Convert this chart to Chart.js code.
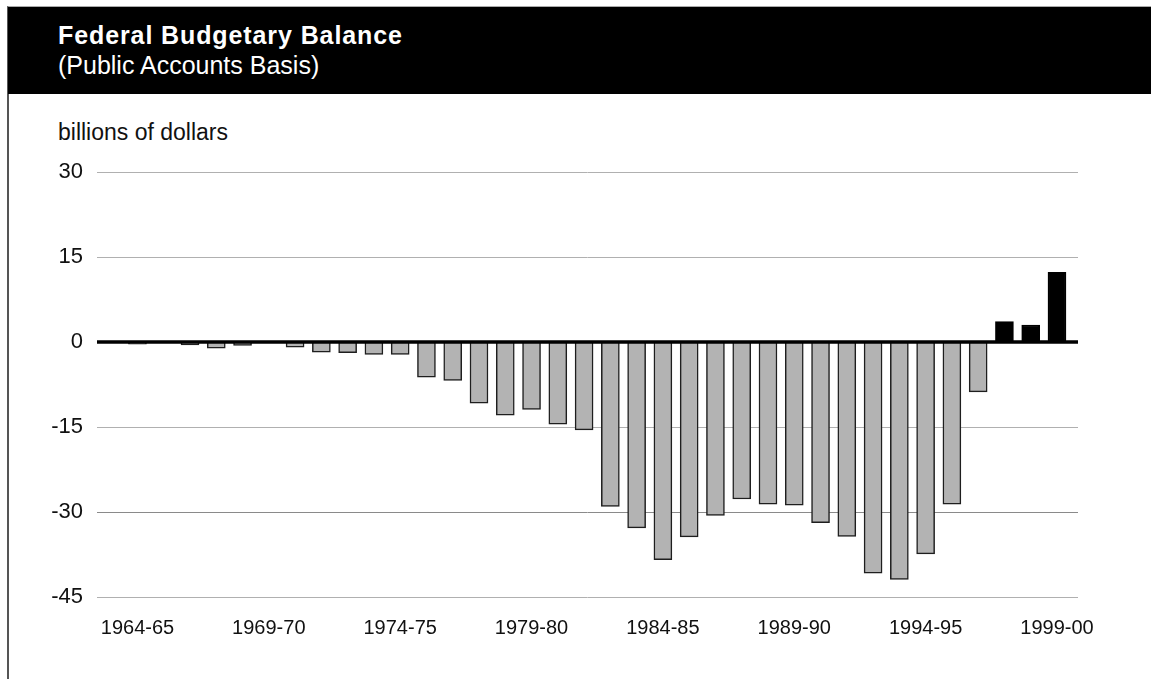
<!DOCTYPE html>
<html>
<head>
<meta charset="utf-8">
<script src="https://cdn.jsdelivr.net/npm/chart.js@4.4.1/dist/chart.umd.min.js"></script>
<style>
  html, body { margin:0; padding:0; background:#fff; }
  body { width:1151px; height:679px; position:relative; overflow:hidden; font-family:'Liberation Sans', Arial, Helvetica, sans-serif; }
  #frame { position:absolute; left:7px; top:6px; right:0; bottom:-5px; border-left:2px solid #555; border-top:1px solid #aaa; }
  #header { position:absolute; left:8px; top:7px; right:0; height:87px; background:#000; color:#fff; }
  #title { position:absolute; left:50px; top:15.8px; font-size:25px; line-height:25px; font-weight:bold; letter-spacing:0.9px; white-space:nowrap; }
  #subtitle { position:absolute; left:50px; top:45.8px; font-size:25px; line-height:25px; white-space:nowrap; }
  #unit { position:absolute; left:58px; top:120.5px; font-size:23px; line-height:23px; color:#111; white-space:nowrap; }
  #c { position:absolute; left:0; top:0; }
</style>
</head>
<body>
<div id="frame"></div>
<div id="header">
  <div id="title">Federal Budgetary Balance</div>
  <div id="subtitle">(Public Accounts Basis)</div>
</div>
<div id="unit">billions of dollars</div>
<canvas id="c" width="1151" height="679"></canvas>
<script>
// Fiscal years (categories)
const categories = [
  '1964-65','1965-66','1966-67','1967-68','1968-69','1969-70',
  '1970-71','1971-72','1972-73','1973-74','1974-75','1975-76',
  '1976-77','1977-78','1978-79','1979-80','1980-81','1981-82',
  '1982-83','1983-84','1984-85','1985-86','1986-87','1987-88',
  '1988-89','1989-90','1990-91','1991-92','1992-93','1993-94',
  '1994-95','1995-96','1996-97','1997-98','1998-99','1999-00'
];
// Budgetary balance, billions of dollars
const balance = [
  -0.4, 0.0, -0.5, -1.1, -0.6, 0.0,
  -0.9, -1.8, -1.9, -2.2, -2.2, -6.2,
  -6.8, -10.8, -12.9, -11.9, -14.5, -15.5,
  -29.0, -32.8, -38.4, -34.4, -30.6, -27.7,
  -28.6, -28.8, -31.9, -34.3, -40.8, -41.9,
  -37.4, -28.6, -8.8, 3.6, 3.0, 12.3
];
// Labels shown on the horizontal axis
const xTickLabels = ['1964-65','1969-70','1974-75','1979-80','1984-85','1989-90','1994-95','1999-00'];
// Vertical axis ticks
const yTickValues = [-45, -30, -15, 0, 15, 30];

Chart.defaults.font.family = "'Liberation Sans', Arial, Helvetica, sans-serif";
Chart.defaults.color = '#111';

const zeroLine = {
  id: 'zeroLine',
  afterDatasetsDraw(chart) {
    const { ctx, chartArea, scales } = chart;
    const py = scales.y.getPixelForValue(0);
    ctx.save();
    ctx.strokeStyle = '#000';
    ctx.lineWidth = 3.5;
    ctx.beginPath();
    ctx.moveTo(chartArea.left, py);
    ctx.lineTo(chartArea.right, py);
    ctx.stroke();
    ctx.restore();
  }
};

new Chart(document.getElementById('c'), {
  type: 'bar',
  data: {
    datasets: [{
      data: balance.map((v, i) => ({ x: i, y: v })),
      backgroundColor: balance.map(v => v > 0 ? '#000' : '#b3b3b3'),
      borderColor: balance.map(v => v > 0 ? '#000' : '#1e1e1e'),
      borderWidth: 1.5,
      barThickness: 18
    }]
  },
  options: {
    responsive: false,
    animation: false,
    devicePixelRatio: 1,
    layout: { padding: { left: 51, right: 73, top: 172, bottom: 12 } },
    plugins: { legend: { display: false }, tooltip: { enabled: false }, title: { display: false } },
    scales: {
      x: {
        type: 'linear',
        offset: false,
        min: -1.54,
        max: 35.8,
        grid: { display: false, offset: false },
        border: { display: false },
        afterBuildTicks: s => { s.ticks = xTickLabels.map(l => ({ value: categories.indexOf(l) })); },
        afterFit: s => { s.height = 70; },
        ticks: {
          autoSkip: false, maxRotation: 0, minRotation: 0, padding: 11,
          font: { size: 20 }, color: '#111',
          callback: v => categories[v]
        }
      },
      y: {
        min: -45,
        max: 30,
        border: { display: false },
        afterBuildTicks: s => { s.ticks = yTickValues.map(v => ({ value: v })); },
        afterFit: s => { s.width = 46; },
        grid: {
          drawTicks: false,
          lineWidth: 1,
          color: ctx => {
            const v = ctx.tick ? ctx.tick.value : null;
            if (v === 0) return 'rgba(0,0,0,0)';
            if (v === -30) return '#8a8a8a';
            return '#b0b0b0';
          }
        },
        ticks: { padding: 14, font: { size: 22 }, color: '#111' }
      }
    }
  },
  plugins: [zeroLine]
});
</script>
</body>
</html>
